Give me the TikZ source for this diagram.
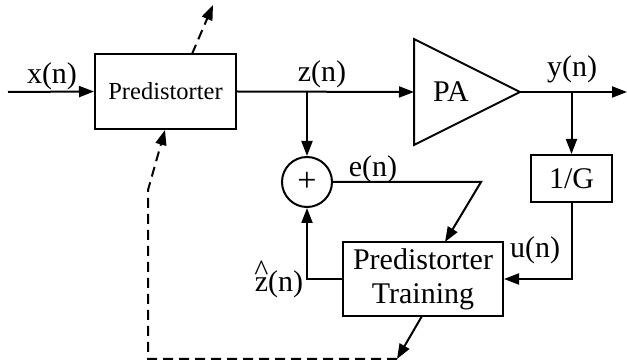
\documentclass[tikz,border=0pt]{standalone}
\usepackage{fontspec}
\setmainfont{Liberation Serif}
\usetikzlibrary{arrows.meta}
\begin{document}
\begin{tikzpicture}[x=1pt,y=-1pt,
  line width=2pt,
  arr/.style={-{Triangle[length=15pt,width=11pt]}},
  dsh/.style={dash pattern=on 10pt off 6pt},
  blk/.style={draw, inner sep=0pt},
  lbl/.style={anchor=base, inner sep=0pt},
  every node/.style={font=\fontsize{30}{34}\selectfont}]
\useasboundingbox (0,0) rectangle (627,363);
% blocks
\node[blk, minimum width=141pt, minimum height=75pt, font=\fontsize{24.5}{28}\selectfont] (pd) at (165.5,91.5) {Predistorter};
\node[blk, minimum width=160pt, minimum height=74pt, align=center] (tr) at (423,279) {Predistorter\\Training};
\node[blk, minimum width=81pt, minimum height=47pt] (g) at (571.5,178.5) {1/G};
\node[draw, circle, minimum size=50pt, inner sep=0pt, font=\fontsize{34}{34}\selectfont] (sum) at (307,182) {+};
% PA triangle
\coordinate (pa1) at (414,39);
\coordinate (pa2) at (414,145);
\coordinate (patip) at (520,92);
\coordinate (pain) at (414,92);
\draw[line join=miter] (pa1) -- (patip) -- (pa2) -- cycle;
\node[anchor=base, inner sep=0pt] (pal) at (451,102) {PA};
% coordinates
\coordinate (xin) at (8,92);
\coordinate (j1) at (307,92);
\coordinate (j2) at (571.5,92);
\coordinate (yout) at (627,92);
\coordinate (uc) at (571.5,279);
\coordinate (ec) at (481,182);
\coordinate (etip) at (445,242);
\coordinate (zc) at (307,279);
\coordinate (dc) at (397,359);
\coordinate (dl) at (148,359);
\coordinate (du) at (148,190);
\coordinate (dtip) at (165,130);
\coordinate (ttop) at (192,54);
\coordinate (ttip) at (213,5);
\coordinate (trb) at (422,316);
% labels
\node[lbl] (lx) at (52,84) {x(n)};
\node[lbl] (lz) at (322,82) {z(n)};
\node[lbl] (ly) at (572,77) {y(n)};
\node[lbl] (le) at (373,177) {e(n)};
\node[lbl] (lu) at (535,258) {u(n)};
\node[lbl] (lzh) at (279,292) {\rlap{\hbox to \fontcharwd\font`z{\hss\raisebox{11pt}{\^{}}\hss}}z(n)};
% connectors
\draw[arr] (xin) -- (pd.west);
\draw[arr] (pd.east) -- (pain);
\draw[arr] (j1) -- (sum.north);
\draw[arr] (patip) -- (yout);
\draw[arr] (j2) -- (g.north);
\draw[arr] (g.south) -- (uc) -- (tr.east);
\draw[arr] (sum.east) -- (ec) -- (etip);
\draw[arr] (tr.west) -- (zc) -- (sum.south);
\draw[arr] (trb) -- (dc);
\draw[arr, dsh] (dc) -- (dl) -- (du) -- (dtip);
\draw[arr, dsh] (ttop) -- (ttip);
\end{tikzpicture}
\end{document}
